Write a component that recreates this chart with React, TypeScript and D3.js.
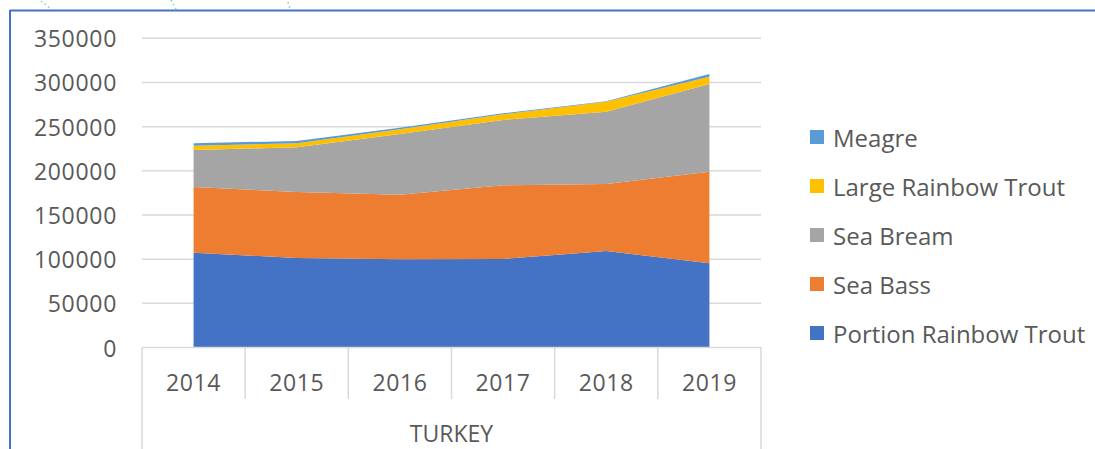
import React from "react";
import { scaleBand, scaleLinear, stack, area, stackOrderNone } from "d3";

// values (tonnes)
const years = ["2014", "2015", "2016", "2017", "2018", "2019"];
const portionRainbowTrout = [107300, 101300, 99800, 100200, 109200, 95300];
const seaBass = [74400, 74700, 73200, 83400, 75900, 103700];
const seaBream = [41900, 50600, 68700, 73900, 81800, 99300];
const largeRainbowTrout = [4800, 4600, 5300, 6500, 11300, 8200];
const meagre = [2800, 2600, 1800, 1100, 500, 3100];
const yTicks = [0, 50000, 100000, 150000, 200000, 250000, 300000, 350000];
const country = "TURKEY";

const seriesNames = [
  "Portion Rainbow Trout",
  "Sea Bass",
  "Sea Bream",
  "Large Rainbow Trout",
  "Meagre",
];
const colors: Record<string, string> = {
  "Portion Rainbow Trout": "#4472c4",
  "Sea Bass": "#ed7d31",
  "Sea Bream": "#a5a5a5",
  "Large Rainbow Trout": "#ffc000",
  Meagre: "#5b9bd5",
};

const rows = years.map((year, i) => ({
  year,
  "Portion Rainbow Trout": portionRainbowTrout[i],
  "Sea Bass": seaBass[i],
  "Sea Bream": seaBream[i],
  "Large Rainbow Trout": largeRainbowTrout[i],
  Meagre: meagre[i],
}));

const W = 1095;
const H = 449;
const FONT = "'Open Sans', sans-serif";
const TEXT = "#595959";
const GRID = "#d9d9d9";

export default function App() {
  const x = scaleBand<string>().domain(years).range([142, 761]);
  const y = scaleLinear().domain([0, 350000]).range([347.5, 38.3]);
  const cx = (yr: string) => (x(yr) as number) + x.bandwidth() / 2;

  const layers = stack<any>().keys(seriesNames).order(stackOrderNone)(rows);
  const areaGen = area<any>()
    .x((d) => cx(d.data.year))
    .y0((d) => y(d[0]))
    .y1((d) => y(d[1]));

  const legendOrder = [...seriesNames].reverse();
  const axisY = y(0);

  return (
    <svg
      width={W}
      height={H}
      style={{ position: "absolute", left: 0, top: 0, background: "#fff" }}
      fontFamily={FONT}
    >
      {/* stray dotted connector marks at the top edge */}
      <g stroke="#7fd1b9" strokeWidth={1.5} strokeDasharray="1.5 3">
        <line x1={41} y1={1} x2={51} y2={9} />
        <line x1={171} y1={0} x2={176} y2={9} />
        <line x1={288} y1={2} x2={290} y2={9} />
      </g>

      {/* chart frame */}
      <line x1={10} y1={10.5} x2={W} y2={10.5} stroke="#4472c4" strokeWidth={2} />
      <line x1={10} y1={10} x2={10} y2={H} stroke="#4472c4" strokeWidth={2} />

      {/* gridlines */}
      {yTicks
        .filter((t) => t > 0)
        .map((t) => (
          <line key={t} x1={142} x2={761} y1={y(t)} y2={y(t)} stroke={GRID} strokeWidth={1.5} />
        ))}

      {/* stacked areas */}
      {layers.map((layer) => (
        <path key={layer.key} d={areaGen(layer) as string} fill={colors[layer.key]} />
      ))}

      {/* category axis */}
      <line x1={142} x2={761} y1={axisY} y2={axisY} stroke={GRID} strokeWidth={1.5} />
      {years.slice(1).map((yr) => (
        <line
          key={yr}
          x1={x(yr) as number}
          x2={x(yr) as number}
          y1={axisY}
          y2={399}
          stroke={GRID}
          strokeWidth={1.5}
        />
      ))}
      <line x1={142} x2={142} y1={axisY} y2={H} stroke={GRID} strokeWidth={1.5} />
      <line x1={761} x2={761} y1={axisY} y2={H} stroke={GRID} strokeWidth={1.5} />

      {years.map((yr) => (
        <text key={yr} x={cx(yr)} y={382} fill={TEXT} fontSize={23} letterSpacing={0.6} textAnchor="middle" dominantBaseline="central">
          {yr}
        </text>
      ))}
      <text x={451.5} y={433} fill={TEXT} fontSize={23} textAnchor="middle" dominantBaseline="central">
        {country}
      </text>

      {/* value axis labels */}
      {yTicks.map((t) => (
        <text key={t} x={117} y={y(t)} fill={TEXT} fontSize={23} letterSpacing={0.7} textAnchor="end" dominantBaseline="central">
          {t}
        </text>
      ))}

      {/* legend */}
      {legendOrder.map((name, i) => {
        const ly = 137 + i * 49;
        return (
          <g key={name}>
            <rect x={810} y={ly - 7} width={14} height={14} fill={colors[name]} />
            <text x={833} y={ly} fill={TEXT} fontSize={24} dominantBaseline="central">
              {name}
            </text>
          </g>
        );
      })}
    </svg>
  );
}
